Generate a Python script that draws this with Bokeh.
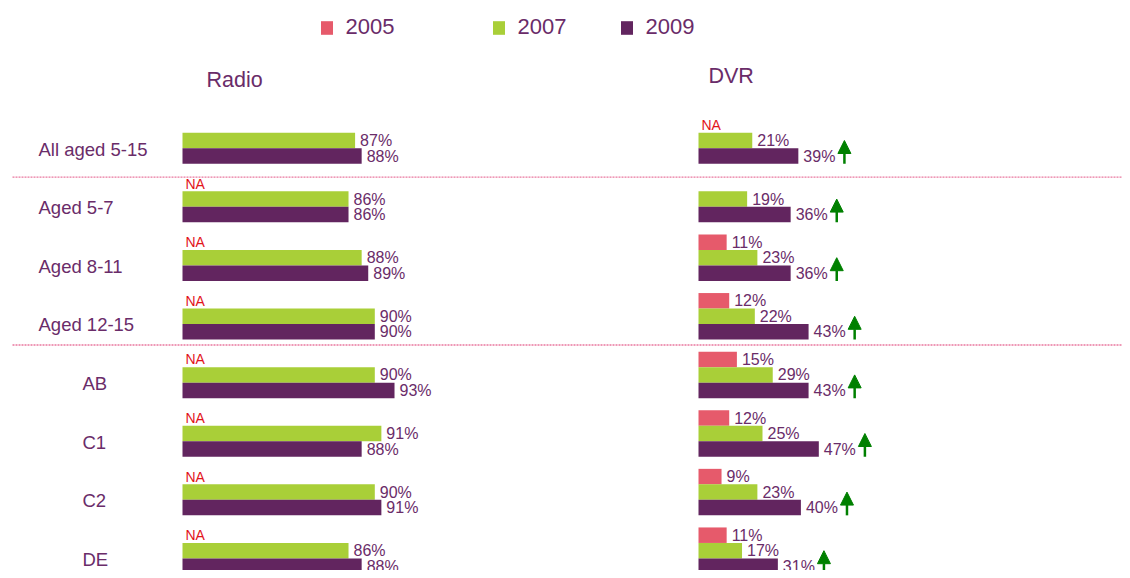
from bokeh.plotting import figure
from bokeh.models import (Range1d, ColumnDataSource, Legend, LegendItem, Label,
                          Arrow, NormalHead)
from bokeh.core.properties import value
from bokeh.embed import file_html
from bokeh.resources import INLINE

# ---------------- data ----------------
groups = ["All aged 5-15", "Aged 5-7", "Aged 8-11", "Aged 12-15", "AB", "C1", "C2", "DE"]
years = ["2005", "2007", "2009"]

radio_2005 = [None, None, None, None, None, None, None, None]
radio_2007 = [87, 86, 88, 90, 90, 91, 90, 86]
radio_2009 = [88, 86, 89, 90, 93, 88, 91, 88]
radio_na = [False, True, True, True, True, True, True, True]

dvr_2005 = [None, None, 11, 12, 15, 12, 9, 11]
dvr_2007 = [21, 19, 23, 22, 29, 25, 23, 17]
dvr_2009 = [39, 36, 36, 43, 43, 47, 40, 31]
dvr_na = [True, False, False, False, False, False, False, False]
dvr_up = [True, True, True, True, True, True, True, True]

# ---------------- style / layout ----------------
FONT = "Liberation Sans"
C_RED = "#E65A6B"
C_GREEN = "#A9CF38"
C_PURPLE = "#62255F"
C_TEXT = "#6A2C69"
C_NA = "#E2141B"
C_ARROW = "#008000"
C_SEP = "#E9789F"
colors = [C_RED, C_GREEN, C_PURPLE]

W, H = 1122, 570
PITCH = 58.6          # pixels per row group
ROW0 = 140            # pixel of first row's centre (2007 bar)
BAR_H = 15.5 / PITCH
OFFS = [-BAR_H, 0.0, BAR_H]
RADIO_BASE = 60.73    # radio axis is truncated in the original
RADIO_PX = 6.57       # pixels per percent, radio panel
DVR_PX = 2.56         # pixels per percent, DVR panel
DVR_BASE = 0
ARROW_GAP = 18
label_x = [38, 38, 38, 38, 82, 82, 82, 82]
sep_y = [0.625, 3.49]

p = figure(width=W, height=H, output_backend="svg", toolbar_location=None,
           x_range=Range1d(RADIO_BASE - 182 / RADIO_PX, RADIO_BASE + (W - 182) / RADIO_PX),
           y_range=Range1d((H - ROW0) / PITCH, -ROW0 / PITCH),
           x_axis_location=None, y_axis_location=None, min_border=0,
           outline_line_color=None, background_fill_color="white",
           border_fill_color="white")
p.grid.grid_line_color = None
p.extra_x_ranges = {"dvr": Range1d(-698 / DVR_PX, (W - 698) / DVR_PX),
                    "px": Range1d(0, W)}

# separators
p.segment(x0=[12] * len(sep_y), x1=[W] * len(sep_y), y0=sep_y, y1=sep_y,
          x_range_name="px", line_color=C_SEP, line_width=1.3, line_dash="2 1")

# row labels
p.text(x=label_x, y=[i + 8.5 / PITCH for i in range(len(groups))], text=groups,
       x_range_name="px", text_font=value(FONT), text_font_size="18.5px",
       text_color=C_TEXT, text_baseline="middle", text_align="left")


def panel(series, na_flags, base, rng):
    rends = []
    for k, vals in enumerate(series):
        ys = [i + OFFS[k] for i, v in enumerate(vals) if v is not None]
        vs = [v for v in vals if v is not None]
        src = ColumnDataSource(dict(y=ys, right=vs, left=[base] * len(vs),
                                    lab=[f"{v}%" for v in vs]))
        r = p.hbar(y="y", left="left", right="right", height=BAR_H, source=src,
                   fill_color=colors[k], line_color=None, x_range_name=rng)
        p.text(x="right", y="y", text="lab", source=src, x_offset=5,
               x_range_name=rng, text_font=value(FONT), text_font_size="16px",
               text_color=C_TEXT, text_baseline="middle", text_align="left")
        rends.append(r)
    na_y = [i + OFFS[0] for i, f in enumerate(na_flags) if f]
    p.text(x=[base] * len(na_y), y=na_y, text=["NA"] * len(na_y), x_offset=3,
           x_range_name=rng, text_font=value(FONT), text_font_size="14px",
           text_color=C_NA, text_baseline="middle", text_align="left")
    return rends


radio_r = panel([radio_2005, radio_2007, radio_2009], radio_na, RADIO_BASE, "default")
dvr_r = panel([dvr_2005, dvr_2007, dvr_2009], dvr_na, DVR_BASE, "dvr")

# significance arrows
ax = [v + ARROW_GAP for v, u in zip(dvr_2009, dvr_up) if u]
ay0 = [i + 1.5 * BAR_H for i, u in enumerate(dvr_up) if u]
ay1 = [i + 0.0 for i, u in enumerate(dvr_up) if u]
asrc = ColumnDataSource(dict(x=ax, y0=ay0, y1=ay1))
p.add_layout(Arrow(end=NormalHead(size=13, fill_color=C_ARROW, line_color=C_ARROW),
                   x_start="x", y_start="y0", x_end="x", y_end="y1", source=asrc,
                   x_range_name="dvr", line_color=C_ARROW, line_width=2.5))

# panel titles
for txt, tx, ty in [("Radio", 206, 79), ("DVR", 708, 75)]:
    p.add_layout(Label(x=tx, y=(ty - ROW0) / PITCH, x_range_name="px",
                       text=txt, text_font=FONT, text_font_size="21.5px",
                       text_color=C_TEXT, text_baseline="middle", text_align="left"))

# legend (three separate entries, spaced as in the original)
GW, GH = 15, 17
leg_rends = [dvr_r[0], dvr_r[1], dvr_r[2]]
for yr, r, lx in zip(years, leg_rends, [318.5, 490.5, 618.5]):
    leg = Legend(items=[LegendItem(label=yr, renderers=[r])],
                 location=(lx, H - 40),
                 glyph_width=GW, glyph_height=GH, label_standoff=12, padding=0,
                 margin=0, spacing=0, border_line_color=None,
                 background_fill_alpha=0, label_text_font=FONT,
                 label_text_font_size="22px", label_text_color=C_TEXT)
    p.add_layout(leg, "center")

open("out.html", "w").write(file_html(p, INLINE))
